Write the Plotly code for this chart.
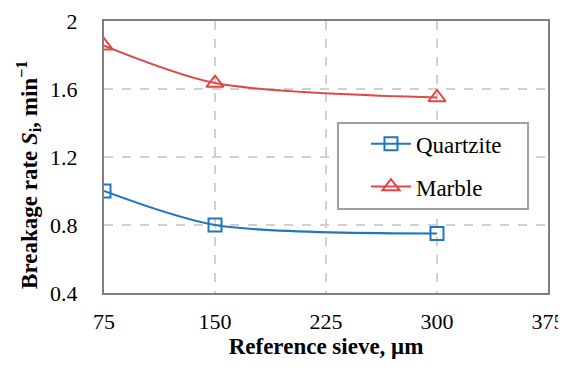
import plotly.graph_objects as go

sieve = [75, 150, 300]
quartzite = [1.0, 0.80, 0.75]
marble = [1.855, 1.635, 1.55]
x_ticks = [75, 150, 225, 300, 375]
y_ticks = [0.4, 0.8, 1.2, 1.6, 2.0]
y_tick_text = ["0.4", "0.8", "1.2", "1.6", "2"]

blue = "#1f77c0"
red = "#e04848"
font_family = "Liberation Serif"

fig = go.Figure()
fig.add_trace(go.Scatter(
    x=sieve, y=quartzite, name="Quartzite", mode="lines+markers", legendgroup="q",
    line=dict(color=blue, width=2, shape="spline", smoothing=0.8),
    marker=dict(symbol="square-open", size=13, color=blue, line=dict(width=2)),
))
fig.add_trace(go.Scatter(
    x=sieve, y=marble, name="Marble", mode="lines+markers", legendgroup="m",
    line=dict(color=red, width=2, shape="spline", smoothing=0.8),
    marker=dict(symbol="triangle-up-open", size=15, color=red, line=dict(width=2)),
))

# legend frame (opaque box like the reference)
fig.add_shape(type="rect", xref="paper", yref="paper",
              x0=0.527, x1=0.955, y0=0.309, y1=0.625, layer="above",
              line=dict(color="#a0a0a0", width=2), fillcolor="white")

# y-axis title as a rotated annotation (sits slightly below the plot centre, as in the reference)
fig.add_annotation(
    text="<b>Breakage rate <i>S</i><sub>i</sub>, min<sup>−1</sup></b>",
    xref="paper", yref="paper", x=-0.169, y=0.434, xanchor="center", yanchor="middle",
    textangle=-90, showarrow=False, font=dict(family=font_family, size=23, color="black"),
)

# page body has an 8px margin, so the figure is sized to fit inside the window
fig.update_layout(
    width=558, height=353,
    margin=dict(l=96, r=18, t=13, b=68),
    paper_bgcolor="white", plot_bgcolor="white",
    font=dict(family=font_family, size=22, color="black"),
    legend=dict(
        x=0.59, y=0.628, xanchor="left", yanchor="top",
        borderwidth=0, bgcolor="rgba(0,0,0,0)",
        font=dict(family=font_family, size=23, color="black"),
        itemwidth=40, traceorder="grouped", tracegroupgap=10,
    ),
    xaxis=dict(
        range=[75, 375], tickvals=x_ticks, ticks="", automargin=False,
        showgrid=True, gridcolor="#d0d0d0", griddash="dash", gridwidth=1.5,
        showline=True, linecolor="#808080", linewidth=2, mirror=True,
        zeroline=False, tickfont=dict(family=font_family, size=22), ticklabelstandoff=8,
        title=dict(text="<b>Reference sieve, μm</b>", font=dict(family=font_family, size=23), standoff=2),
    ),
    yaxis=dict(
        range=[0.4, 2.0], tickvals=y_ticks, ticktext=y_tick_text, ticks="", automargin=False,
        showgrid=True, gridcolor="#d0d0d0", griddash="dash", gridwidth=1.5,
        showline=True, linecolor="#808080", linewidth=2, mirror=True,
        zeroline=False, tickfont=dict(family=font_family, size=22), ticklabelstandoff=20,
    ),
)

fig.write_html("out.html")
